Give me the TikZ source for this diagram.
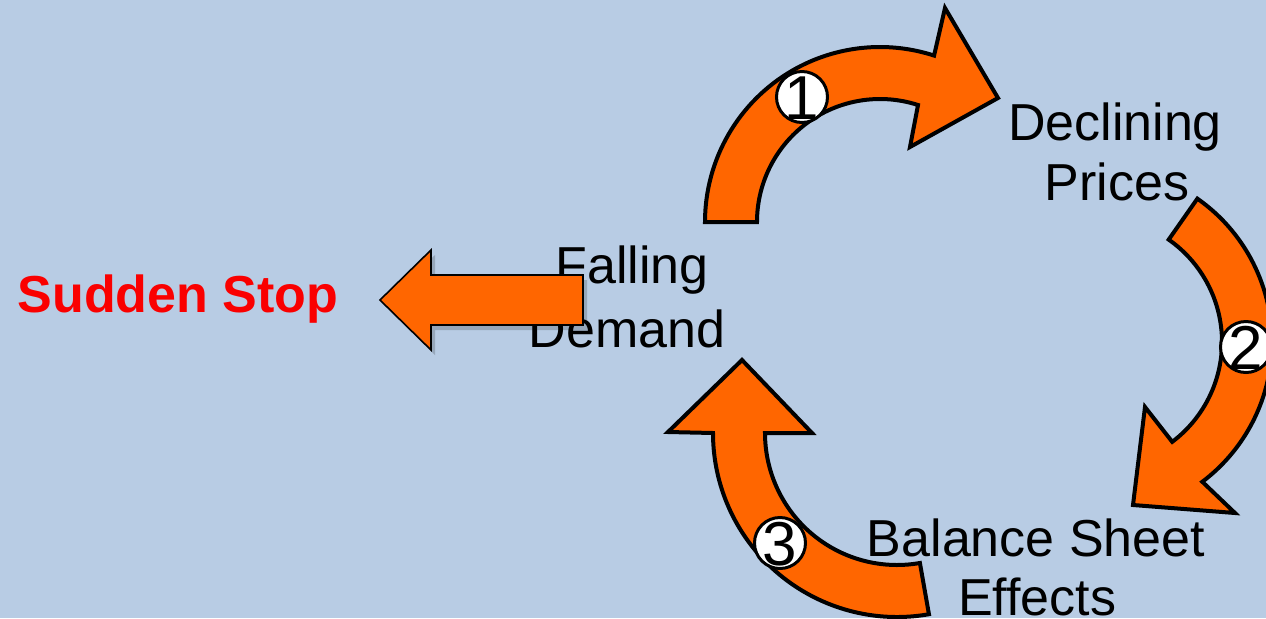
\documentclass[tikz,border=0pt]{standalone}
\usepackage{fontspec}
\setmainfont{Liberation Sans}
\usetikzlibrary{calc}
\definecolor{bg}{RGB}{184,204,228}
\definecolor{org}{RGB}{255,102,0}
\definecolor{stopred}{RGB}{250,0,0}
\newcommand{\circdigit}[1]{\makebox[0pt]{\raisebox{-0.36em}[0pt][0pt]{#1}}}
\begin{document}
\begin{tikzpicture}[x=0.5pt,y=-0.5pt,
  curvearrow/.style={fill=org, draw=black, line width=2pt, line join=miter},
  flatarrow/.style={fill=org, draw=black, line width=0.8pt, line join=miter},
  numcircle/.style={circle, fill=white, draw=black, line width=1.5pt, minimum size=25.5pt, inner sep=0pt, font=\fontsize{31}{31}\selectfont},
  lbl/.style={font=\fontsize{26}{30}\selectfont, anchor=base, inner sep=0pt},
  stoplbl/.style={font=\fontsize{26}{30}\selectfont\bfseries, text=stopred, anchor=base, inner sep=0pt}]
\fill[bg] (0,0) rectangle (1266,618);
\useasboundingbox (0,0) rectangle (1266,618);
\clip (0,0) rectangle (1266,618);

% texts
\node[lbl] (declining) at (1115,140) {Declining};
\node[lbl] (prices) at (1117,200) {Prices};
\node[lbl] (balance) at (1036,556) {Balance Sheet};
\node[lbl] (effects) at (1037,615) {Effects};
\node[lbl] (falling) at (632,283) {Falling};
\node[lbl] (demand) at (627,347) {Demand};
\node[stoplbl] (stop) at (178,312) {Sudden Stop};

% arrow 1
\coordinate (c1) at (880,222);
\draw[curvearrow] ($(c1)+(-180:175)$) arc[start angle=-180,end angle=-72,radius=175]
  -- (945,8) -- (998,98) -- (910,147) -- ($(c1)+(-72:123)$)
  arc[start angle=-72,end angle=-180,radius=123] -- cycle;

% arrow 2
\coordinate (c2) at (1097,342);
\draw[curvearrow] ($(c2)+(-55:175)$) arc[start angle=-55,end angle=53,radius=175]
  -- (1235,513) -- (1133,505) -- (1145,407) -- ($(c2)+(53:125)$)
  arc[start angle=53,end angle=-55,radius=125] -- cycle;

% arrow 3
\coordinate (c3) at (897,433);
\draw[curvearrow] ($(c3)+(-280:184)$) arc[start angle=-280,end angle=-180,radius=184]
  -- (668,432) -- (742,360) -- (812,433) -- ($(c3)+(-180:132)$)
  arc[start angle=-180,end angle=-280,radius=132] -- cycle;

% straight arrow
\fill[black, opacity=0.18] (587,280) -- (435,280) -- (435,255) -- (384,305) -- (435,355) -- (435,330) -- (587,330) -- cycle;
\draw[flatarrow] (583,275) -- (431,275) -- (431,250) -- (380,300) -- (431,350) -- (431,325) -- (583,325) -- cycle;

% numbers
\node[numcircle] (n1) at (802,97) {\circdigit{1}};
\node[numcircle] (n2) at (1246,347) {\circdigit{2}};
\node[numcircle] (n3) at (780,543) {\circdigit{3}};
\end{tikzpicture}
\end{document}
